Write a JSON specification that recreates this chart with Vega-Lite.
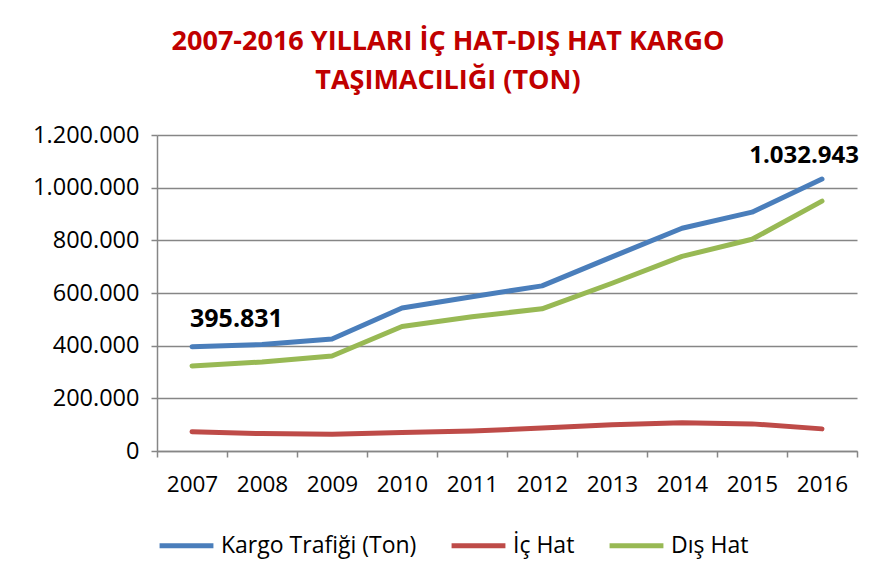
{
  "$schema": "https://vega.github.io/schema/vega-lite/v6.json",
  "autosize": {"type": "none"},
  "width": 700,
  "height": 316,
  "padding": {"left": 157, "top": 135, "right": 20, "bottom": 133},
  "background": "#ffffff",
  "title": {
    "text": ["2007-2016 YILLARI İÇ HAT-DIŞ HAT KARGO", "TAŞIMACILIĞI (TON)"],
    "font": "Open Sans",
    "fontSize": 27,
    "fontWeight": "bold",
    "color": "#C00000",
    "lineHeight": 39,
    "anchor": "middle",
    "dx": -59,
    "offset": 28
  },
  "data": {
    "values": [
      {"year": "2007", "series": "Kargo Trafiği (Ton)", "value": 395831, "label": "395.831"},
      {"year": "2008", "series": "Kargo Trafiği (Ton)", "value": 404000},
      {"year": "2009", "series": "Kargo Trafiği (Ton)", "value": 425000},
      {"year": "2010", "series": "Kargo Trafiği (Ton)", "value": 543000},
      {"year": "2011", "series": "Kargo Trafiği (Ton)", "value": 586000},
      {"year": "2012", "series": "Kargo Trafiği (Ton)", "value": 627000},
      {"year": "2013", "series": "Kargo Trafiği (Ton)", "value": 737000},
      {"year": "2014", "series": "Kargo Trafiği (Ton)", "value": 846000},
      {"year": "2015", "series": "Kargo Trafiği (Ton)", "value": 907000},
      {"year": "2016", "series": "Kargo Trafiği (Ton)", "value": 1032943, "label": "1.032.943"},
      {"year": "2007", "series": "İç Hat", "value": 73000},
      {"year": "2008", "series": "İç Hat", "value": 66000},
      {"year": "2009", "series": "İç Hat", "value": 64000},
      {"year": "2010", "series": "İç Hat", "value": 70000},
      {"year": "2011", "series": "İç Hat", "value": 76000},
      {"year": "2012", "series": "İç Hat", "value": 87000},
      {"year": "2013", "series": "İç Hat", "value": 100000},
      {"year": "2014", "series": "İç Hat", "value": 107000},
      {"year": "2015", "series": "İç Hat", "value": 103000},
      {"year": "2016", "series": "İç Hat", "value": 84000},
      {"year": "2007", "series": "Dış Hat", "value": 323000},
      {"year": "2008", "series": "Dış Hat", "value": 338000},
      {"year": "2009", "series": "Dış Hat", "value": 361000},
      {"year": "2010", "series": "Dış Hat", "value": 473000},
      {"year": "2011", "series": "Dış Hat", "value": 510000},
      {"year": "2012", "series": "Dış Hat", "value": 540000},
      {"year": "2013", "series": "Dış Hat", "value": 637000},
      {"year": "2014", "series": "Dış Hat", "value": 739000},
      {"year": "2015", "series": "Dış Hat", "value": 804000},
      {"year": "2016", "series": "Dış Hat", "value": 949000}
    ]
  },
  "encoding": {
    "x": {
      "field": "year",
      "type": "ordinal",
      "scale": {"type": "band", "paddingInner": 0, "paddingOuter": 0},
      "axis": {
        "title": null,
        "labelAngle": 0,
        "tickBand": "extent",
        "grid": false,
        "domainColor": "#868686",
        "domainWidth": 1.5,
        "tickColor": "#868686",
        "tickWidth": 1.5,
        "tickSize": 6,
        "labelPadding": 16,
        "labelFont": "Open Sans",
        "labelFontSize": 22.5,
        "labelColor": "#000000"
      }
    },
    "y": {
      "field": "value",
      "type": "quantitative",
      "scale": {"domain": [0, 1200000], "nice": false},
      "axis": {
        "title": null,
        "values": [0, 200000, 400000, 600000, 800000, 1000000, 1200000],
        "labelExpr": "replace(format(datum.value, ',d'), /,/g, '.')",
        "grid": true,
        "gridColor": "#868686",
        "gridWidth": 1.5,
        "domainColor": "#868686",
        "domainWidth": 1.5,
        "tickColor": "#868686",
        "tickWidth": 1.5,
        "tickSize": 6,
        "labelPadding": 12,
        "labelFont": "Open Sans",
        "labelFontSize": 23.5,
        "labelColor": "#000000"
      }
    }
  },
  "layer": [
    {
      "mark": {"type": "line", "strokeWidth": 5, "strokeCap": "round", "strokeJoin": "round"},
      "encoding": {
        "color": {
          "field": "series",
          "type": "nominal",
          "scale": {
            "domain": ["Kargo Trafiği (Ton)", "İç Hat", "Dış Hat"],
            "range": ["#4A7EBB", "#BE4B48", "#98B954"]
          },
          "legend": {
            "title": null,
            "orient": "none",
            "direction": "horizontal",
            "legendX": 0,
            "legendY": 381,
            "symbolType": "stroke",
            "symbolSize": 2900,
            "symbolStrokeWidth": 5,
            "labelFont": "Open Sans",
            "labelFontSize": 23,
            "labelColor": "#000000",
            "labelOffset": 5,
            "columnPadding": 24,
            "labelLimit": 400
          }
        }
      }
    },
    {
      "transform": [{"filter": "datum.year == '2007' && datum.label"}],
      "mark": {"type": "text", "align": "left", "baseline": "alphabetic", "dx": -2, "dy": -20, "font": "Open Sans", "fontSize": 25, "fontWeight": "bold", "color": "#000000"},
      "encoding": {"text": {"field": "label"}}
    },
    {
      "transform": [{"filter": "datum.year == '2016' && datum.label"}],
      "mark": {"type": "text", "align": "right", "baseline": "alphabetic", "dx": 37, "dy": -16, "font": "Open Sans", "fontSize": 24, "fontWeight": "bold", "color": "#000000"},
      "encoding": {"text": {"field": "label"}}
    }
  ],
  "config": {
    "view": {"stroke": null}
  }
}
